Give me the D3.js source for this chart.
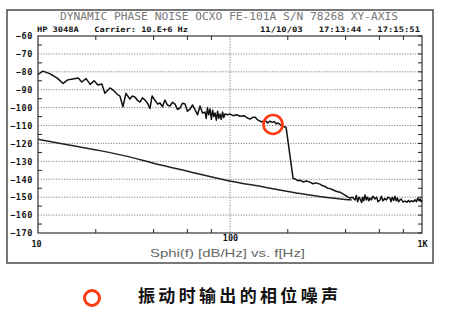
<!DOCTYPE html>
<meta charset="utf-8">
<style>
  body { margin: 0; background: #fff; }
  svg { display: block; }
  text { white-space: pre; }
  .grid line { stroke: #666; stroke-width: 0.8; stroke-dasharray: 1.2,1.4; }
  .lbl { font-family: "DejaVu Sans Mono", monospace; font-weight: bold; fill: #111; }
</style>
<body>
<svg width="455" height="327"></svg>
<script src="https://d3js.org/d3.v7.min.js"></script>
<script>
// measured phase noise trace [Hz, dBc/Hz]
const noiseTrace = [
  [10, -81.5], [10.6, -79.6], [11.5, -81], [12.6, -83.5], [13.5, -86.5], [14.3, -84.5],
  [15.2, -84], [16.2, -83.5], [16.9, -85.7], [17.8, -83.8], [18.7, -87], [19.6, -85],
  [20.5, -87.4], [21.5, -86.8], [22.3, -92], [23.7, -89], [24.6, -90.2], [25.8, -92.4],
  [26.7, -93.5], [27.7, -99.5], [28.7, -92], [30.1, -95.2], [31, -93.5], [32, -94.1],
  [33, -96], [34, -96.9], [35, -94.5], [36.1, -95.8], [37.2, -97.5], [38.3, -100.5],
  [39.3, -93.5], [40.6, -95.8], [42, -98], [43.2, -97.4], [44.5, -99.5], [45.8, -95.8],
  [47.2, -98.5], [48.7, -99.1], [50.2, -97], [51.7, -98], [53.3, -101], [54.9, -100.2],
  [56.6, -97.5], [58.3, -98], [60, -102], [61.9, -100.8], [63.8, -98.5], [65.8, -101.3],
  [67.8, -104], [69.8, -99.1], [71.9, -103], [74.1, -102.5], [75.2, -106], [76.3, -100],
  [77.5, -104], [78.7, -100.8], [80, -106.5], [81.2, -101.5], [82.4, -105], [83.6, -103],
  [84.9, -107], [86.2, -102], [87.4, -106], [88.7, -103.6], [90, -106.5], [91.5, -102.5],
  [92.8, -105.5], [94.2, -103.6], [97, -104], [100, -103.6], [104, -104.5], [108, -104],
  [112.8, -104.8], [118, -104.5], [122, -105.5], [127, -106.4], [131, -105.5], [135, -105.3],
  [140, -107], [146.7, -108], [152, -107], [157, -108.5], [161.6, -107.5], [166, -108.2],
  [170, -107.8], [174, -109], [177.8, -108.6], [183, -109.5], [188, -110.3], [193, -110.8],
  [196, -111], [213, -139.5], [220, -140], [225, -140.8], [231.5, -140.5], [240, -141.5],
  [250, -141], [261, -141.6], [270, -142.5], [280, -142], [294, -142.7], [303, -143.5],
  [312, -144], [322, -145], [332, -145.2], [345, -146], [360, -146.8], [374, -147.2],
  [385, -148], [397, -148.8], [410, -149.8], [422, -150.5], [435, -150], [448, -151.6],
  [455, -149], [462, -152.5], [470, -150], [476, -151], [485, -153], [490, -150],
  [497, -152], [505, -148.8], [512, -151.5], [520, -150], [528, -152], [536, -150.5],
  [545, -151.5], [555, -149.5], [569, -151], [580, -150], [590, -152.5], [604, -151.6],
  [615, -149.5], [625, -152], [641, -150.8], [652, -151.5], [665, -150], [681, -150.5],
  [690, -152.5], [700, -150], [712, -151.8], [723, -149.5], [735, -152], [745, -150.5],
  [755, -152.5], [767, -151.6], [780, -151], [795, -152.7], [815, -152.2], [835, -152.8],
  [850, -151.8], [866, -152.7], [880, -152], [900, -152.5], [920, -151.5], [935, -152.5],
  [950, -150.5], [965, -152], [977, -151], [990, -152.5], [1000, -151.8]
];

// smooth reference (static) curve [Hz, dBc/Hz]
const refCurve = [
  [10, -117.7], [14.7, -121], [21, -124], [30, -127.5], [40, -131], [60, -135.5],
  [98, -140.8], [152, -144.4], [232, -148], [320, -150.2], [398, -151.3], [430, -151.6]
];

// highlighted point (circle)
const marker = [167.5, -109.4];

const yTicks = [-60, -70, -80, -90, -100, -110, -120, -130, -140, -150, -160, -170];
const yMinor = [-65, -75, -85, -95, -105, -115, -125, -135, -145, -155, -165];
const xTicks = [10, 100, 1000];
const xTickLabels = ["10", "100", "1K"];
const xMinor = [20, 40, 60, 80, 200, 400, 600, 800];

const title = "DYNAMIC PHASE NOISE OCXO FE-101A S/N 78268 XY-AXIS";
const headLeft = "HP 3048A   Carrier: 10.E+6 Hz";
const headRight = "11/10/03   17:13:44 - 17:15:51";
const xTitle = "Sphi(f) [dB/Hz] vs. f[Hz]";
const legendText = "振动时输出的相位噪声";

const svg = d3.select("svg");
const red = "#ff3a12";

const x = d3.scaleLog().domain([10, 1000]).range([38, 422]);
const y = d3.scaleLinear().domain([-170, -60]).range([233, 36]);

// outer frame
svg.append("rect")
  .attr("x", 7).attr("y", 10).attr("width", 426).attr("height", 253)
  .attr("fill", "none").attr("stroke", "#555").attr("stroke-width", 1.6);

// header texts
svg.append("text").attr("x", 60).attr("y", 20)
  .attr("textLength", 338).attr("lengthAdjust", "spacingAndGlyphs")
  .style("font", "11px 'DejaVu Sans Mono', monospace").attr("fill", "#777")
  .text(title);
svg.append("text").attr("class", "lbl").attr("x", 37).attr("y", 32)
  .attr("textLength", 151).attr("lengthAdjust", "spacingAndGlyphs")
  .style("font-size", "7.5px").text(headLeft);
svg.append("text").attr("class", "lbl").attr("x", 260).attr("y", 32)
  .attr("textLength", 160).attr("lengthAdjust", "spacingAndGlyphs")
  .style("font-size", "7.5px").text(headRight);

// grid
const grid = svg.append("g").attr("class", "grid");
grid.selectAll("line.h")
  .data(yTicks.slice(1, -1))
  .join("line")
  .attr("x1", x(10)).attr("x2", x(1000))
  .attr("y1", d => y(d)).attr("y2", d => y(d));
grid.append("line")
  .attr("x1", x(100)).attr("x2", x(100))
  .attr("y1", y(-60)).attr("y2", y(-170));

// axes (labels from d3 axes, minor ticks inward)
const yAxis = svg.append("g").attr("transform", `translate(${x(10)},0)`)
  .call(d3.axisLeft(y).tickValues(yTicks).tickSize(0).tickPadding(5).tickFormat(d3.format("d")));
yAxis.select(".domain").remove();
yAxis.selectAll("text").attr("class", "lbl").style("font-size", "8.5px").attr("letter-spacing", 0.6);

const xAxis = svg.append("g").attr("transform", `translate(0,${y(-170)})`)
  .call(d3.axisBottom(x).tickValues(xTicks).tickSize(0).tickPadding(8)
    .tickFormat((d, i) => xTickLabels[i]));
xAxis.select(".domain").remove();
xAxis.selectAll("text").attr("class", "lbl").style("font-size", "8.5px");
xAxis.selectAll(".tick").filter(d => d === 10).select("text").attr("dx", -2);
xAxis.selectAll(".tick").filter(d => d === 100).select("text").attr("y", 2);

const ticks = svg.append("g").attr("stroke", "#222").attr("stroke-width", 1);
ticks.selectAll("line.yl").data(yMinor).join("line")
  .attr("x1", x(10)).attr("x2", x(10) + 4).attr("y1", d => y(d)).attr("y2", d => y(d));
ticks.selectAll("line.yr").data(yMinor.concat(yTicks)).join("line")
  .attr("x1", x(1000) - 4).attr("x2", x(1000)).attr("y1", d => y(d)).attr("y2", d => y(d));
ticks.selectAll("line.xt").data(xMinor).join("line")
  .attr("x1", d => x(d)).attr("x2", d => x(d)).attr("y1", y(-60)).attr("y2", y(-60) + 4);
ticks.selectAll("line.xb").data(xMinor).join("line")
  .attr("x1", d => x(d)).attr("x2", d => x(d)).attr("y1", y(-170)).attr("y2", y(-170) - 4);

svg.append("rect")
  .attr("x", x(10)).attr("y", y(-60))
  .attr("width", x(1000) - x(10)).attr("height", y(-170) - y(-60))
  .attr("fill", "none").attr("stroke", "#222").attr("stroke-width", 1.1);

// curves
const line = d3.line().x(d => x(d[0])).y(d => y(d[1]));
svg.append("path").datum(refCurve).attr("d", line.curve(d3.curveMonotoneX))
  .attr("fill", "none").attr("stroke", "#222").attr("stroke-width", 1.5);
svg.append("path").datum(noiseTrace).attr("d", line.curve(d3.curveLinear))
  .attr("fill", "none").attr("stroke", "#111").attr("stroke-width", 1.5)
  .attr("stroke-linejoin", "round");

// highlight circle
svg.append("circle")
  .attr("cx", x(marker[0])).attr("cy", y(marker[1])).attr("r", 9.5)
  .attr("fill", "none").attr("stroke", red).attr("stroke-width", 2.6);

// x title
svg.append("text").attr("x", 150).attr("y", 257)
  .attr("textLength", 155).attr("lengthAdjust", "spacingAndGlyphs")
  .style("font", "11px 'Liberation Sans', Arial, sans-serif").attr("fill", "#666")
  .text(xTitle);

// legend
svg.append("circle").attr("cx", 92).attr("cy", 298).attr("r", 7.5)
  .attr("fill", "none").attr("stroke", red).attr("stroke-width", 3);
svg.append("text").attr("x", 138).attr("y", 302)
  .attr("textLength", 200).attr("lengthAdjust", "spacing")
  .style("font", "bold 17px 'Noto Sans CJK SC', sans-serif").attr("fill", "#111")
  .text(legendText);
</script>
</body>
